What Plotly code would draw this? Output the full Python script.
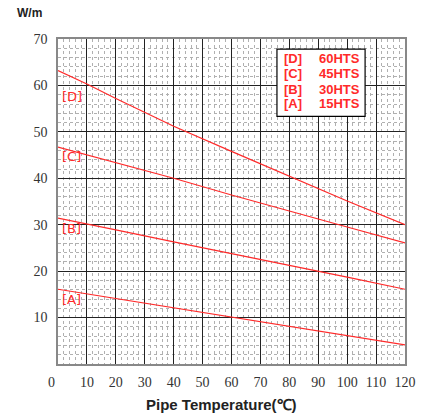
import plotly.graph_objects as go

# Data
temps = [0, 10, 20, 40, 60, 80, 100, 120]
series_a = [16.1, 15.1, 14.1, 12.1, 10.1, 8.0, 6.0, 4.1]
series_b = [31.4, 30.2, 28.9, 26.3, 23.8, 21.2, 18.7, 16.1]
series_c = [46.7, 45.0, 43.3, 40.0, 36.4, 32.9, 29.5, 26.1]
series_d = [63.2, 60.3, 57.2, 51.2, 45.8, 40.4, 35.1, 30.0]

codes = ["[A]", "[B]", "[C]", "[D]"]
names = ["15HTS", "30HTS", "45HTS", "60HTS"]
label_y = [13.8, 29.1, 44.6, 57.7]
label_x = 4.8

x_ticks = [10, 20, 30, 40, 50, 60, 70, 80, 90, 100, 110, 120]
y_ticks = [10, 20, 30, 40, 50, 60, 70]

RED = "#ff2a2a"
fig = go.Figure()
for code, name, ys in zip(codes, names, [series_a, series_b, series_c, series_d]):
    fig.add_trace(go.Scatter(x=temps, y=ys, mode="lines", name=f"{code} {name}",
                             line=dict(color=RED, width=1.2), showlegend=False))

# line labels
for code, ly in zip(codes, label_y):
    fig.add_annotation(x=label_x, y=ly, xref="x", yref="y", text=code, showarrow=False,
                       font=dict(family="DejaVu Sans", size=13, color=RED))

# legend box
fig.add_shape(type="rect", xref="paper", yref="paper", x0=0.631, x1=0.885, y0=0.762, y1=0.969,
              line=dict(color="black", width=1.2), fillcolor="white", layer="above")
leg_y = [0.800, 0.845, 0.893, 0.940]
for code, name, yy in zip(codes, names, leg_y):
    fig.add_annotation(x=0.645, y=yy, xref="paper", yref="paper", text=f"<b>{code}</b>",
                       showarrow=False, xanchor="left", yanchor="middle",
                       font=dict(family="Liberation Sans", size=13, color=RED))
    fig.add_annotation(x=0.875, y=yy, xref="paper", yref="paper", text=f"<b>{name}</b>",
                       showarrow=False, xanchor="right", yanchor="middle",
                       font=dict(family="Liberation Sans", size=13, color=RED))

# axis titles
fig.add_annotation(x=-0.125, y=1.08, xref="paper", yref="paper", text="<b>W/m</b>",
                   showarrow=False, xanchor="left", yanchor="middle",
                   font=dict(family="Liberation Sans", size=12, color="#222"))
fig.add_annotation(x=0.47, y=-0.126, xref="paper", yref="paper", text="<b>Pipe Temperature(℃)</b>",
                   showarrow=False, yanchor="middle",
                   font=dict(family="Liberation Sans", size=15, color="#222"))
# origin label "0"
fig.add_annotation(x=-0.034, y=-0.058, xref="paper", yref="paper", text="0", showarrow=False,
                   yanchor="middle",
                   font=dict(family="Liberation Serif", size=14, color="#333"))

fig.update_xaxes(range=[0, 120], tickvals=x_ticks, ticks="", showgrid=True,
                 gridcolor="#222", gridwidth=1.3,
                 minor=dict(dtick=2, showgrid=True, gridcolor="#b0b0b0", griddash="dot", gridwidth=1),
                 showline=True, linecolor="#888", linewidth=1.5, mirror=True,
                 tickfont=dict(family="Liberation Serif", size=14, color="#333"), ticklabelstandoff=4,
                 zeroline=False, fixedrange=True)
fig.update_yaxes(range=[0, 70], tickvals=y_ticks, ticks="", showgrid=True,
                 gridcolor="#222", gridwidth=1.3,
                 minor=dict(dtick=2, showgrid=True, gridcolor="#b0b0b0", griddash="dot", gridwidth=1),
                 showline=True, linecolor="#888", linewidth=1.5, mirror=True,
                 tickfont=dict(family="Liberation Serif", size=14, color="#333"), ticklabelstandoff=6,
                 zeroline=False, fixedrange=True)

fig.update_layout(width=441, height=413, margin=dict(l=58, r=36, t=39, b=49),
                  plot_bgcolor="white", paper_bgcolor="white", showlegend=False)

fig.write_html("out.html")
